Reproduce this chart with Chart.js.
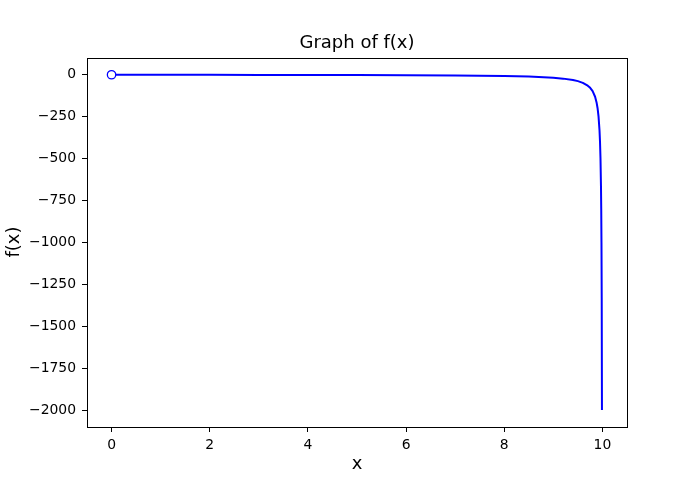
<!DOCTYPE html>
<html>
<head>
<meta charset="utf-8">
<script src="https://cdn.jsdelivr.net/npm/chart.js@4/dist/chart.umd.min.js"></script>
<style>
  html, body { margin: 0; padding: 0; background: #fff; }
  #wrap { width: 697px; height: 480px; }
</style>
</head>
<body>
<div id="wrap"><canvas id="chart" width="697" height="480"></canvas></div>
<script>
// values
const xValues = [0, 1, 2, 3, 4, 5, 6, 7, 7.5, 8, 8.5, 9, 9.2, 9.4, 9.5, 9.6, 9.7, 9.75, 9.8, 9.85, 9.88, 9.9, 9.92, 9.94, 9.95, 9.96, 9.97, 9.975, 9.98, 9.985, 9.99];
const yValues = [0, -0.2, -0.5, -0.9, -1.3, -2, -3, -4.7, -6, -8, -11, -18, -23, -31, -38, -48, -65, -78, -98, -131, -165, -198, -248, -331, -398, -498, -665, -798, -998, -1331, -1998];
const xTicks = [0, 2, 4, 6, 8, 10];
const yTicks = [0, -250, -500, -750, -1000, -1250, -1500, -1750, -2000];

const titleText = 'Graph of f(x)';
const xLabel = 'x';
const yLabel = 'f(x)';

const points = xValues.map((x, i) => ({ x: x, y: yValues[i] }));
const fontFamily = '"DejaVu Sans", sans-serif';

function minusSign(v) {
  return String(v).replace('-', '\u2212');
}

// frame box + title + axis labels
const decorations = {
  id: 'decorations',
  afterDraw(chart) {
    const ctx = chart.ctx;
    const a = chart.chartArea;
    ctx.save();
    ctx.strokeStyle = '#000';
    ctx.lineWidth = 1;
    ctx.strokeRect(Math.round(a.left) + 0.5, Math.round(a.top) + 0.5,
      Math.round(a.right - a.left), Math.round(a.bottom - a.top));

    ctx.fillStyle = '#000';
    ctx.textAlign = 'center';
    ctx.textBaseline = 'alphabetic';
    ctx.font = '18px ' + fontFamily;
    ctx.fillText(titleText, (a.left + a.right) / 2, 48);

    ctx.fillText(xLabel, (a.left + a.right) / 2, 469);

    ctx.translate(19, 242);
    ctx.rotate(-Math.PI / 2);
    ctx.fillText(yLabel, 0, 0);
    ctx.restore();
  }
};

new Chart(document.getElementById('chart'), {
  type: 'scatter',
  data: {
    datasets: [{
      data: points,
      showLine: true,
      borderColor: '#0000ff',
      borderWidth: 2,
      borderJoinStyle: 'round',
      borderCapStyle: 'butt',
      borderDash: [100000, 0], // keeps Chart.js off its per-pixel fast path
      backgroundColor: '#ffffff',
      pointRadius: ctx => ctx.dataIndex === 0 ? 4.2 : 0,
      pointBorderWidth: 1.3,
      pointBorderColor: '#0000ff',
      pointBackgroundColor: '#ffffff',
      pointHoverRadius: 0,
      tension: 0,
      clip: false
    }]
  },
  options: {
    responsive: false,
    animation: false,
    events: [],
    layout: { padding: { top: 58, right: 70, left: 0, bottom: 0 } },
    plugins: {
      legend: { display: false },
      title: { display: false },
      tooltip: { enabled: false }
    },
    scales: {
      x: {
        type: 'linear',
        min: -0.5,
        max: 10.5,
        afterFit: s => { s.height = 53; },
        afterBuildTicks: s => { s.ticks = xTicks.map(v => ({ value: v })); },
        border: { display: false },
        grid: { display: true, drawOnChartArea: false, drawTicks: true, tickLength: 5, color: '#000', tickColor: '#000' },
        ticks: { color: '#000', padding: 5, maxRotation: 0, font: { family: fontFamily, size: 13.9 }, callback: v => minusSign(v) }
      },
      y: {
        type: 'linear',
        min: -2100,
        max: 100,
        afterFit: s => { s.width = 87; },
        afterBuildTicks: s => { s.ticks = yTicks.map(v => ({ value: v })); },
        border: { display: false },
        grid: { display: true, drawOnChartArea: false, drawTicks: true, tickLength: 5, color: '#000', tickColor: '#000' },
        ticks: { color: '#000', padding: 6, font: { family: fontFamily, size: 13.9 }, callback: v => minusSign(v) }
      }
    }
  },
  plugins: [decorations]
});
</script>
</body>
</html>
